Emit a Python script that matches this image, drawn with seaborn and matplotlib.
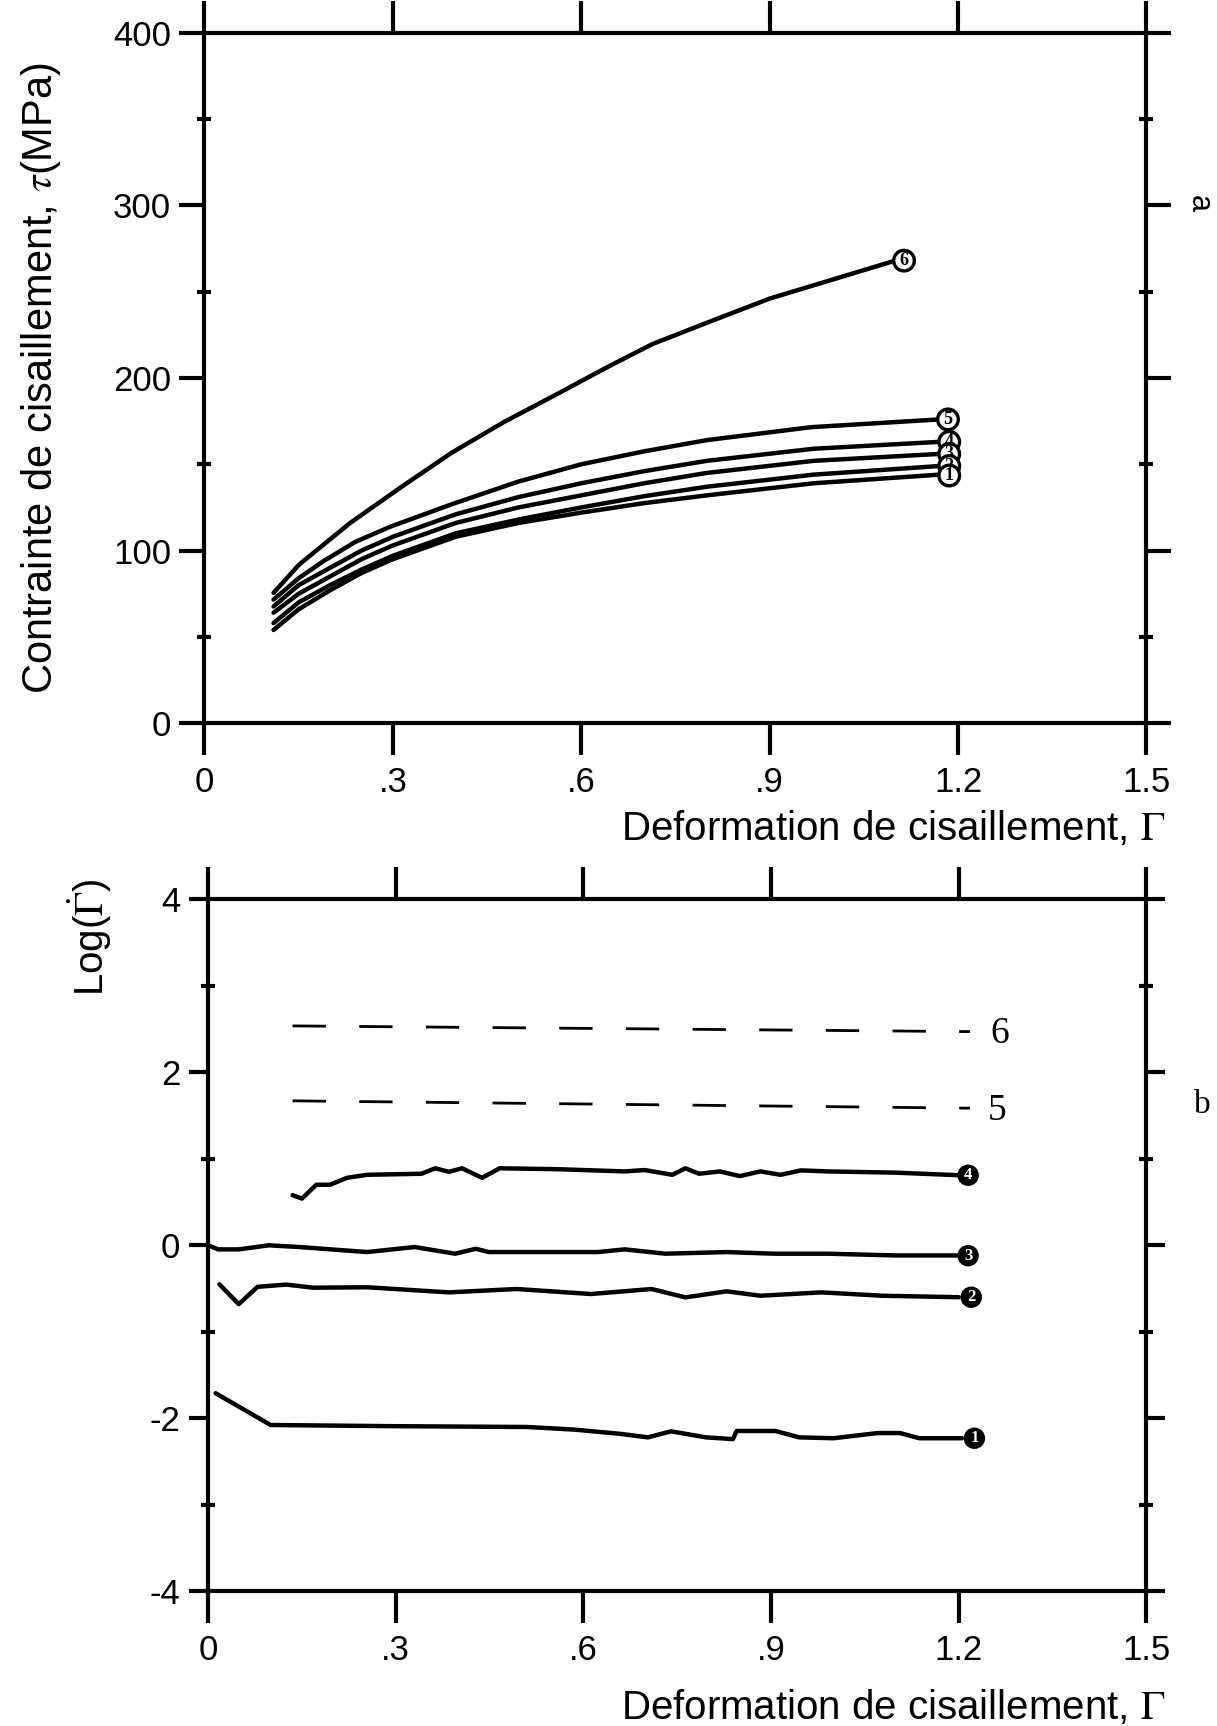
import numpy as np
import pandas as pd
import seaborn as sns
import matplotlib.pyplot as plt
from matplotlib.ticker import MultipleLocator, FixedLocator

# --- panel a : contrainte vs deformation ---
g6 = [0.11, 0.151, 0.232, 0.314, 0.395, 0.477, 0.558, 0.64, 0.713, 0.8, 0.9, 1.0, 1.1]
t6 = [75.5, 92, 116, 137, 157, 174.5, 190, 206, 219.6, 232, 246, 257, 268]
g5 = [0.11, 0.15, 0.19, 0.24, 0.297, 0.395, 0.5, 0.6, 0.7, 0.8, 0.966, 1.17]
t5 = [71.6, 84, 94, 105, 114, 127, 140, 150, 157.5, 164, 171.5, 176]
g4 = [0.11, 0.15, 0.2, 0.25, 0.3, 0.4, 0.5, 0.6, 0.7, 0.8, 0.97, 1.17]
t4 = [67.6, 80, 90, 100, 108, 121, 131, 139, 146, 152, 159, 163]
g3 = [0.11, 0.15, 0.2, 0.25, 0.3, 0.4, 0.5, 0.6, 0.7, 0.8, 0.97, 1.17]
t3 = [64, 75, 85, 95, 103, 116, 125, 132, 139, 145, 152, 156]
g2 = [0.11, 0.15, 0.2, 0.25, 0.3, 0.4, 0.5, 0.6, 0.7, 0.8, 0.97, 1.17]
t2 = [58, 70, 80, 89, 97, 110, 118, 125, 131.5, 137, 144, 149]
g1 = [0.11, 0.15, 0.2, 0.25, 0.3, 0.4, 0.5, 0.6, 0.7, 0.8, 0.97, 1.17]
t1 = [54, 66, 77, 87, 95, 108, 116, 122, 127.5, 132, 139, 144]

# --- panel b : log vitesse de deformation ---
gb6 = [0.135, 1.218]
lb6 = [2.536, 2.47]
gb5 = [0.135, 1.218]
lb5 = [1.67, 1.585]
gb4 = [0.135, 0.15, 0.173, 0.195, 0.222, 0.254, 0.341, 0.363, 0.385, 0.406, 0.438, 0.466,
       0.558, 0.666, 0.698, 0.742, 0.763, 0.785, 0.818, 0.85, 0.883, 0.915, 0.948, 0.99, 1.099, 1.2]
lb4 = [0.58, 0.54, 0.70, 0.70, 0.78, 0.815, 0.827, 0.89, 0.85, 0.89, 0.78, 0.89,
       0.88, 0.854, 0.87, 0.815, 0.89, 0.827, 0.854, 0.80, 0.854, 0.815, 0.866, 0.854, 0.84, 0.81]
gb3 = [0.0, 0.016, 0.049, 0.097, 0.146, 0.254, 0.33, 0.395, 0.428, 0.449, 0.515, 0.623,
       0.666, 0.731, 0.829, 0.904, 0.99, 1.099, 1.2]
lb3 = [0.0, -0.047, -0.047, 0.0, -0.02, -0.078, -0.02, -0.097, -0.04, -0.078, -0.078, -0.078,
       -0.047, -0.097, -0.078, -0.097, -0.097, -0.117, -0.117]
gb2 = [0.018, 0.049, 0.079, 0.125, 0.168, 0.254, 0.385, 0.493, 0.612, 0.709, 0.763, 0.829,
       0.883, 0.98, 1.078, 1.2]
lb2 = [-0.45, -0.68, -0.48, -0.454, -0.49, -0.485, -0.544, -0.505, -0.563, -0.505, -0.602, -0.532,
       -0.583, -0.544, -0.583, -0.60]
gb1 = [0.012, 0.10, 0.288, 0.51, 0.585, 0.66, 0.703, 0.74, 0.796, 0.839, 0.845, 0.907,
       0.945, 1.0, 1.07, 1.106, 1.137, 1.205]
lb1 = [-1.71, -2.077, -2.09, -2.10, -2.13, -2.18, -2.22, -2.15, -2.22, -2.24, -2.146, -2.146,
       -2.22, -2.23, -2.17, -2.17, -2.23, -2.23]

xticks = [0, 0.3, 0.6, 0.9, 1.2, 1.5]
xtick_labels = ["0", ".3", ".6", ".9", "1.2", "1.5"]

sns.set_style("ticks")
plt.rcParams['font.family'] = ['Liberation Sans', 'DejaVu Sans']
plt.rcParams['mathtext.fontset'] = 'stix'
plt.rcParams['axes.unicode_minus'] = False
for k in ['text.color', 'axes.labelcolor', 'axes.edgecolor', 'xtick.color', 'ytick.color']:
    plt.rcParams[k] = 'black'

fig = plt.figure(figsize=(12.17, 17.26), dpi=100)
ax1 = fig.add_axes([0.168, 0.581, 0.774, 0.400])
ax2 = fig.add_axes([0.171, 0.078, 0.771, 0.401])

lw = 3.2
for g, t in [(g6, t6), (g5, t5), (g4, t4), (g3, t3), (g2, t2), (g1, t1)]:
    sns.lineplot(x=g, y=t, ax=ax1, color="black", lw=lw, estimator=None, sort=False)

# circled labels, panel a
ends_a = [("6", g6[-1] + 0.014, t6[-1]), ("5", 1.184, 176), ("4", 1.186, 163),
          ("3", 1.186, 156), ("2", 1.186, 149), ("1", 1.186, 143.5)]
for lab, x, y in ends_a:
    ax1.text(x, y, lab, ha="center", va="center", fontsize=13, fontweight="bold",
             family="Liberation Serif",
             bbox=dict(boxstyle="circle,pad=0.1", fc="white", ec="black", lw=2.4))

for g, l in [(gb4, lb4), (gb3, lb3), (gb2, lb2), (gb1, lb1)]:
    sns.lineplot(x=g, y=l, ax=ax2, color="black", lw=lw, estimator=None, sort=False)
for g, l in [(gb6, lb6), (gb5, lb5)]:
    sns.lineplot(x=g, y=l, ax=ax2, color="black", lw=2, linestyle=(0, (12, 12)),
                 estimator=None, sort=False)

ends_b = [("4", 1.215, 0.81), ("3", 1.215, -0.12), ("2", 1.22, -0.60), ("1", 1.225, -2.23)]
for lab, x, y in ends_b:
    ax2.text(x, y, lab, ha="center", va="center", fontsize=12, fontweight="bold",
             color="white", family="Liberation Serif",
             bbox=dict(boxstyle="circle,pad=0.1", fc="black", ec="black", lw=1.5))
ax2.text(1.265, 2.44, "6", fontsize=27, family="Liberation Serif", va="center", ha="center")
ax2.text(1.262, 1.56, "5", fontsize=27, family="Liberation Serif", va="center", ha="center")

for ax in (ax1, ax2):
    ax.set_xlim(0, 1.5)
    ax.xaxis.set_major_locator(FixedLocator(xticks))
    ax.set_xticklabels(xtick_labels)
    for s in ax.spines.values():
        s.set_visible(True)
        s.set_linewidth(3)
    ax.tick_params(axis="x", which="major", bottom=True, top=True, direction="out",
                   length=23, width=3, labelsize=25, pad=8)
    ax.tick_params(axis="y", which="major", left=True, right=True, direction="out",
                   length=18, width=3, labelsize=25, pad=6)
    ax.tick_params(axis="y", which="minor", left=True, right=True, direction="inout",
                   length=10, width=3)

ax1.set_ylim(0, 400)
ax1.yaxis.set_major_locator(MultipleLocator(100))
ax1.yaxis.set_minor_locator(MultipleLocator(50))
ax2.set_ylim(-4, 4)
ax2.yaxis.set_major_locator(MultipleLocator(2))
ax2.yaxis.set_minor_locator(MultipleLocator(1))
ax2.tick_params(axis="y", which="major", length=14)

ax1.set_ylabel(r"Contrainte de cisaillement, $\tau$(MPa)", fontsize=30)
ax1.yaxis.set_label_coords(-0.15, 0.5)
ax1.set_xlabel(r"Deformation de cisaillement, $\Gamma$", fontsize=29, ha="right")
ax1.xaxis.set_label_coords(1.02, -0.125)

ax2.set_ylabel(r"Log($\dot{\Gamma}$)", fontsize=29)
ax2.yaxis.set_label_coords(-0.1, 0.945)
ax2.set_xlabel(r"Deformation de cisaillement, $\Gamma$", fontsize=29, ha="right")
ax2.xaxis.set_label_coords(1.02, -0.14)

fig.text(0.985, 0.882, "a", fontsize=22, rotation=-90, ha="center", va="center")
fig.text(0.988, 0.36, "b", fontsize=24, family="Liberation Serif", ha="center", va="center")

fig.savefig("out.png", dpi=100, facecolor="white")
